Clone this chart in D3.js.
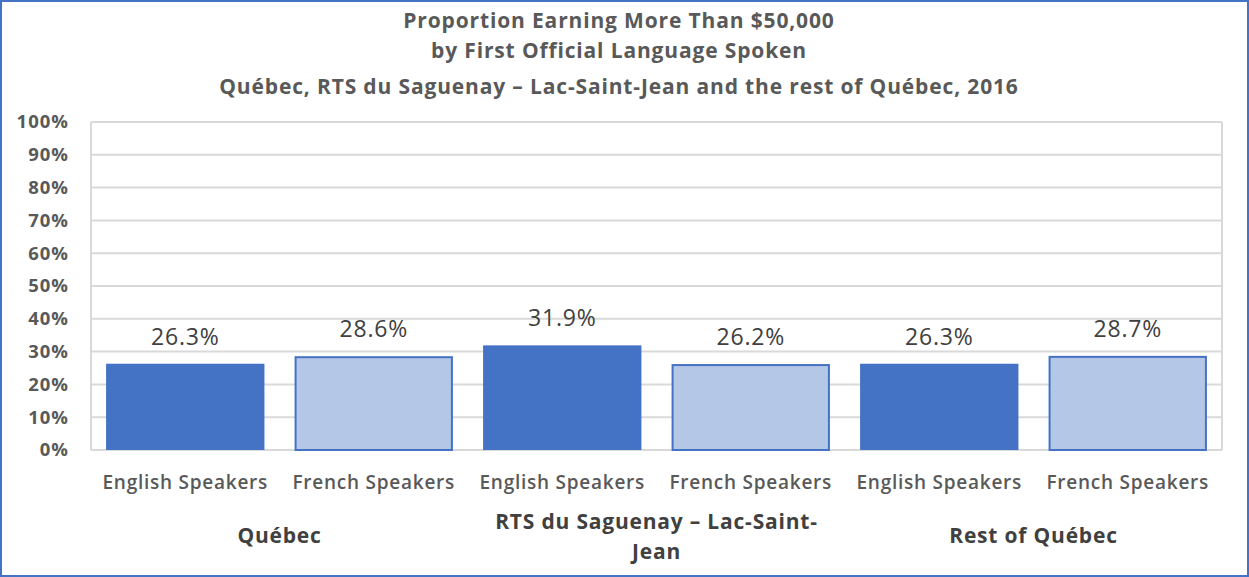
<!DOCTYPE html>
<html><head><meta charset="utf-8">
<script src="https://cdn.jsdelivr.net/npm/d3@7"></script>
<style>body{margin:0;background:#fff}svg{display:block}</style>
</head><body>
<svg id="c" width="1249" height="577"></svg>
<script>
const categories = ["English Speakers","French Speakers","English Speakers","French Speakers","English Speakers","French Speakers"];
const groups = [["Québec"],["RTS du Saguenay – Lac-Saint-","Jean"],["Rest of Québec"]];
const values = [26.3,28.6,31.9,26.2,26.3,28.7];
const kinds = ["en","fr","en","fr","en","fr"];
const yTicks = [0,10,20,30,40,50,60,70,80,90,100];
const titleLines = ["Proportion Earning More Than $50,000","by First Official Language Spoken","Québec, RTS du Saguenay – Lac-Saint-Jean and the rest of Québec, 2016"];

const svg = d3.select("#c");
const F = "'Open Sans', sans-serif";
const W=1249,H=577;
svg.append("rect").attr("x",1).attr("y",1).attr("width",W-2).attr("height",H-2).attr("fill","#fff").attr("stroke","#4472C4").attr("stroke-width",2);

const L=91,R=1222,T=122,B=450;
const x = d3.scaleBand().domain(d3.range(values.length)).range([L,R]).paddingInner(0.16).paddingOuter(0.08);
const y = d3.scaleLinear().domain([0,100]).range([B,T]);

svg.append("g").selectAll("line").data(yTicks).join("line")
 .attr("x1",L).attr("x2",R).attr("y1",d=>y(d)).attr("y2",d=>y(d)).attr("stroke","#d9d9d9").attr("stroke-width",2);
svg.append("line").attr("x1",L).attr("x2",L).attr("y1",T).attr("y2",B).attr("stroke","#d9d9d9").attr("stroke-width",2);
svg.append("line").attr("x1",R).attr("x2",R).attr("y1",T).attr("y2",B).attr("stroke","#d9d9d9").attr("stroke-width",2);

const yAxis = d3.axisLeft(y).tickValues(yTicks).tickFormat(d=>d+"%").tickSize(0).tickPadding(0);
const ya = svg.append("g").attr("transform",`translate(${69},0)`).call(yAxis);
ya.select(".domain").remove();
ya.selectAll("text").attr("font-family",F).attr("font-size",18.5).attr("letter-spacing",1).attr("font-weight","bold").attr("fill","#595959");

svg.append("g").selectAll("rect").data(values).join("rect")
 .attr("x",(d,i)=>x(i)+(kinds[i]==="fr"?1:0)).attr("width",(d,i)=>x.bandwidth()-(kinds[i]==="fr"?2:0))
 .attr("y",(d,i)=>y(d)+(kinds[i]==="fr"?1:0)).attr("height",(d,i)=>B-y(d)-(kinds[i]==="fr"?1:0))
 .attr("fill",(d,i)=>kinds[i]==="en"?"#4472C4":"#B4C7E7")
 .attr("stroke",(d,i)=>kinds[i]==="fr"?"#4472C4":"none").attr("stroke-width",2);

svg.append("g").selectAll("text").data(values).join("text")
 .attr("x",(d,i)=>x(i)+x.bandwidth()/2).attr("y",d=>y(d)-19)
 .attr("text-anchor","middle").attr("font-family",F).attr("font-size",23).attr("letter-spacing",0.8).attr("fill","#404040")
 .text(d=>d.toFixed(1)+"%");

svg.append("g").selectAll("text").data(categories).join("text")
 .attr("x",(d,i)=>x(i)+x.bandwidth()/2).attr("y",489)
 .attr("text-anchor","middle").attr("font-family",F).attr("font-size",19).attr("letter-spacing",0.75).attr("font-weight",600).attr("fill","#595959")
 .text(d=>d);

const gw=(R-L)/groups.length;
groups.forEach((g,gi)=>{
  const cx=L+gw*(gi+0.5);
  const y0 = g.length===1?543:529;
  g.forEach((line,li)=>{
    svg.append("text").attr("x",cx).attr("y",y0+li*30).attr("text-anchor","middle")
     .attr("font-family",F).attr("font-size",21).attr("letter-spacing",0.8).attr("font-weight","bold").attr("fill","#404040").text(line);
  });
});

titleLines.forEach((t,i)=>{
  svg.append("text").attr("x",619).attr("y",[28,58,94][i]).attr("text-anchor","middle")
   .attr("font-family",F).attr("font-size",21).attr("letter-spacing",0.85).attr("font-weight","bold").attr("fill","#595959").text(t);
});
</script>
</body></html>
